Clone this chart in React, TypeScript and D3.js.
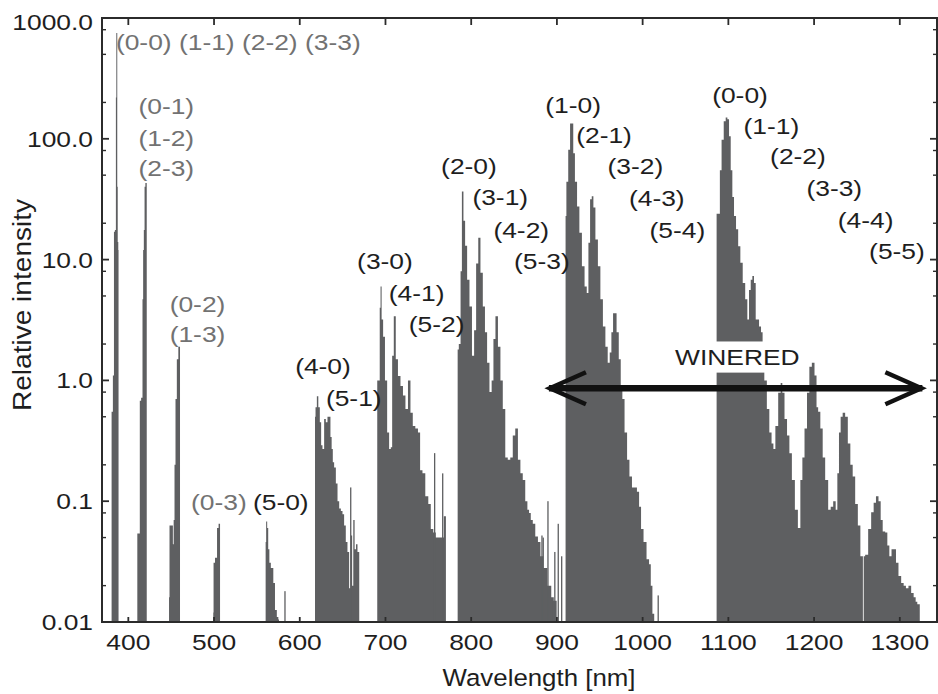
import React from 'react';
import * as d3 from 'd3';

// emission bands: [wavelength nm, relative intensity]
const band00 = [[380.5, 0.55], [381.8, 0.55], [382.2, 1.1], [383.1, 1.1], [383.4, 17], [385.3, 17.6], [385.7, 220], [386.3, 750], [386.9, 750], [387.3, 40], [388, 14], [388.6, 12]];
const band01 = [[410.5, 0.054], [413.2, 0.054], [413.6, 0.68], [416.3, 0.72], [416.8, 4.7], [417.8, 12], [418.4, 17.6], [419.5, 40], [420.3, 43], [421.5, 43]];
const band02 = [[447.5, 0.016], [448.6, 0.063], [451.5, 0.063], [452.5, 0.044], [453.3, 0.07], [454.5, 0.2], [455.6, 0.7], [457.6, 1.5], [459.1, 1.9], [460.3, 1.9]];
const band03 = [[499.1, 0.012], [499.8, 0.031], [502.5, 0.034], [504.5, 0.06], [506.1, 0.065], [507, 0.065]];
const band50 = [[560.2, 0.046], [561.4, 0.068], [562.6, 0.06], [563.8, 0.04], [565.3, 0.031], [567.2, 0.028], [568.4, 0.028], [569.9, 0.021], [572.3, 0.0126], [574.2, 0.011], [575.8, 0.0105]];
const band40 = [[617.8, 0.5], [619, 0.6], [620.9, 0.74], [622.4, 0.6], [624.4, 0.45], [625.5, 0.29], [627.5, 0.27], [629.4, 0.48], [631.4, 0.45], [633.3, 0.5], [635.2, 0.5], [636.4, 0.34], [638, 0.27], [639.1, 0.21], [641.1, 0.19], [643.1, 0.14], [645, 0.1], [647, 0.087], [648.9, 0.083], [650.8, 0.078], [652.7, 0.063], [654.7, 0.046], [656.6, 0.038], [658.6, 0.019], [660.5, 0.052], [661.7, 0.02], [663.2, 0.07], [664.8, 0.04], [666.4, 0.044], [668.3, 0.038], [669.4, 0.038]];
const band30 = [[690.4, 1.0], [692.8, 1.0], [693.8, 4.0], [694.7, 6.0], [696.3, 3.2], [698.2, 2.3], [700.6, 1.0], [703.3, 0.37], [705.2, 0.27], [707.2, 0.28], [708.4, 1.6], [711, 3.4], [713, 1.5], [716.1, 1.09], [718.9, 0.9], [721.9, 0.75], [724.7, 0.58], [727.8, 1.0], [730.5, 0.54], [733.2, 0.42], [736.4, 0.4], [739.4, 0.37], [741.4, 0.18], [744.9, 0.17], [748, 0.11], [751.9, 0.095], [753.8, 0.059], [757.7, 0.055], [759.7, 0.05], [763.5, 0.05], [766.7, 0.05], [769.4, 0.075], [770.5, 0.075]];
const band20 = [[784.2, 1.8], [786.9, 2.0], [788.3, 8], [790, 36.6], [791.9, 21], [793.9, 13], [796.6, 6.8], [799.4, 4.1], [802.4, 1.6], [804.4, 2.6], [807.1, 9.3], [809.4, 15.2], [812.2, 7.8], [814.9, 4.1], [817.2, 2.5], [819.9, 1.4], [822.7, 0.8], [825, 1.0], [826.9, 2.2], [829.7, 3.4], [832.7, 1.9], [835.5, 1.0], [838.2, 0.58], [841.3, 0.23], [844, 0.22], [847.2, 0.23], [849.8, 0.35], [853, 0.4], [856, 0.22], [858.8, 0.17], [861.5, 0.15], [864.6, 0.1], [866.5, 0.085], [868.5, 0.08], [870.5, 0.07], [873.2, 0.065], [876.3, 0.051], [879.4, 0.046], [882.2, 0.035], [886, 0.028], [891.8, 0.02], [895, 0.016], [897.7, 0.015], [899.7, 0.015]];
const band10 = [[910.1, 23], [912, 44], [914.4, 81], [916.3, 134], [918.3, 134], [919.8, 76], [922.2, 44], [924.8, 27.5], [927.6, 16.7], [930.7, 8.8], [933.8, 6.0], [935.8, 5.3], [937.7, 13.8], [939.7, 31.6], [941.6, 33.5], [943.5, 27], [946.3, 14.7], [949.3, 8.8], [952.1, 4.7], [955.2, 2.8], [957.9, 1.9], [960.6, 1.4], [962.6, 1.7], [964.5, 2.5], [966.5, 3.6], [968.4, 3.6], [970.8, 2.5], [973.5, 1.5], [975.4, 0.9], [977.3, 0.7], [980.5, 0.37], [983.2, 0.22], [986, 0.16], [989.1, 0.13], [991.8, 0.13], [994.9, 0.12], [996.8, 0.09], [999.5, 0.059], [1002.6, 0.046], [1006.5, 0.033], [1008.5, 0.03], [1010.5, 0.02], [1012.3, 0.0117], [1013.5, 0.0117]];
const bandIR = [[1086.3, 24], [1089.3, 24], [1090.9, 55], [1093.3, 98], [1095.9, 140], [1097.9, 150], [1099.8, 145], [1101.8, 105], [1103.7, 55], [1105.6, 33], [1107.6, 23], [1110.3, 17.8], [1112.6, 12.9], [1115.4, 9.4], [1118.1, 6.4], [1121.2, 4.7], [1123.1, 3.2], [1125.1, 5.6], [1127.1, 6.8], [1128.9, 7.3], [1130.9, 6.4], [1132.9, 3.2], [1134.8, 3.2], [1136.8, 2.8], [1139.4, 2.5], [1140.5, 1.2], [1143.4, 1.0], [1146.4, 0.58], [1149.2, 0.37], [1151.6, 0.3], [1153.5, 0.27], [1156.2, 0.42], [1160.1, 0.79], [1162, 0.95], [1163.9, 0.79], [1167.1, 0.48], [1169.8, 0.35], [1172.6, 0.25], [1175.6, 0.15], [1179.6, 0.085], [1182.6, 0.06], [1185.4, 0.15], [1187.3, 0.23], [1190.4, 0.4], [1193.1, 0.79], [1195.9, 1.3], [1198.9, 1.4], [1202.1, 1.1], [1203.6, 0.6], [1205.9, 0.55], [1208.7, 0.4], [1211.4, 0.23], [1214.5, 0.15], [1218.4, 0.085], [1220.4, 0.09], [1224.2, 0.1], [1226.2, 0.085], [1228.1, 0.17], [1230, 0.37], [1232, 0.5], [1234.7, 0.54], [1237.8, 0.5], [1240.9, 0.3], [1243.7, 0.2], [1246.4, 0.16], [1249.5, 0.095], [1252.6, 0.063], [1255.4, 0.035], [1258, 0.035], [1261.2, 0.036], [1265, 0.059], [1268.2, 0.081], [1270.8, 0.097], [1273.6, 0.11], [1276.7, 0.1], [1278.7, 0.07], [1281.4, 0.056], [1284.5, 0.055], [1286.4, 0.043], [1289.2, 0.035], [1291.5, 0.04], [1294.2, 0.04], [1296.9, 0.031], [1300, 0.024], [1303.2, 0.021], [1305.8, 0.02], [1308.5, 0.019], [1311.7, 0.02], [1314.8, 0.0174], [1317.5, 0.016], [1319.5, 0.0147], [1321.3, 0.014], [1323.3, 0.014]];

// isolated lines outside the band envelopes
const singleLines = [[582.7, 0.018], [659.4, 0.13], [757.3, 0.25], [766.7, 0.17], [882.5, 0.052], [884, 0.05], [889.5, 0.1], [893.8, 0.015], [897.5, 0.038], [901.5, 0.065], [905.5, 0.035], [1018.1, 0.0166]];
const gapLines = [1257.5];

const yMajor = [0.01, 0.1, 1, 10, 100, 1000];
const yTickText = ['0.01', '0.1', '1.0', '10.0', '100.0', '1000.0'];
const yMinorMult = [2, 5, 8];
const xTicks = [400, 500, 600, 700, 800, 900, 1000, 1100, 1200, 1300];

// band labels: [text, nm, intensity]
const grayLabels = [
  ['(0-0) (1-1) (2-2) (3-3)', 528.3, 637],
  ['(0-1)', 444.3, 185], ['(1-2)', 444.3, 101], ['(2-3)', 444.3, 57.3],
  ['(0-2)', 480.7, 4.25], ['(1-3)', 480.7, 2.4],
  ['(0-3)', 505.6, 0.0975],
];
const darkLabels = [
  ['(5-0)', 577.9, 0.0975],
  ['(4-0)', 627.1, 1.31], ['(5-1)', 663, 0.72],
  ['(3-0)', 699.4, 9.7], ['(4-1)', 736.4, 5.3], ['(5-2)', 759.7, 2.9],
  ['(2-0)', 797.4, 59], ['(3-1)', 833.9, 32.7], ['(4-2)', 858.4, 17.7], ['(5-3)', 882.5, 9.7],
  ['(1-0)', 918.9, 191], ['(2-1)', 955, 108], ['(3-2)', 991.5, 59], ['(4-3)', 1016.5, 32.4], ['(5-4)', 1040.5, 17.7],
  ['(0-0)', 1113.6, 231], ['(1-1)', 1150.2, 128], ['(2-2)', 1181.2, 71.4], ['(3-3)', 1223.6, 39.2], ['(4-4)', 1260.1, 21.4], ['(5-5)', 1296.7, 11.7],
];

const wineredRange = [1037, 1184];
const wineredLevels = [1.16, 2.1];
const arrowRange = [886, 1331];
const arrowLevel = 0.86;

const FONT = "'Liberation Sans', Arial, Helvetica, sans-serif";
const BAR = '#5e5f61';

const Txt = ({ x, y, text, fill = '#1e1e1e', size = 22, sx = 1.2, anchor = 'middle', rotate = 0 }: any) => (
  <text
    transform={`translate(${x},${y}) rotate(${rotate}) scale(${sx},1)`}
    textAnchor={anchor}
    dy="0.36em"
    fontSize={size}
    fontFamily={FONT}
    fill={fill}
  >
    {text}
  </text>
);

const App = () => {
  const width = 938;
  const height = 694;
  const left = 102, right = 937, top = 18, bottom = 622;

  const x = d3.scaleLinear().domain([369.3, 1343.4]).range([left, right]);
  const y = d3.scaleLog().domain([0.01, 1000]).range([bottom, top]).clamp(true);

  const area = d3
    .area<number[]>()
    .curve(d3.curveStep)
    .x((d) => x(d[0]))
    .y0(y(0.01))
    .y1((d) => y(d[1]));

  const bands = [band00, band01, band02, band03, band50, band40, band30, band20, band10, bandIR];

  const yMinor: number[] = [];
  yMajor.slice(0, -1).forEach((d) => yMinorMult.forEach((m) => yMinor.push(d * m)));

  const ay = y(arrowLevel);
  const ax1 = x(arrowRange[0]);
  const ax2 = x(arrowRange[1]);

  return (
    <svg width={width} height={height} style={{ position: 'absolute', left: 0, top: 0, background: '#fff' }}>
      <rect width={width} height={height} fill="#fff" />

      {/* spectrum */}
      <g fill={BAR}>
        {bands.map((b, i) => (
          <path key={i} d={area(b) || ''} />
        ))}
        {singleLines.map((d, i) => (
          <rect key={i} x={x(d[0]) - 0.6} width={1.3} y={y(d[1])} height={y(0.01) - y(d[1])} />
        ))}
      </g>
      {gapLines.map((g, i) => (
        <rect key={i} x={x(g) - 0.5} width={1} y={top} height={bottom - top} fill="#fff" opacity={0.8} />
      ))}

      {/* WINERED label box */}
      <rect
        x={x(wineredRange[0])}
        width={x(wineredRange[1]) - x(wineredRange[0])}
        y={y(wineredLevels[1])}
        height={y(wineredLevels[0]) - y(wineredLevels[1])}
        fill="#fff"
      />
      <Txt x={(x(wineredRange[0]) + x(wineredRange[1])) / 2} y={(y(wineredLevels[0]) + y(wineredLevels[1])) / 2} text="WINERED" />

      {/* double arrow */}
      <g stroke="#111" fill="none">
        <line x1={ax1 + 4} x2={ax2 - 4} y1={ay} y2={ay} strokeWidth={6.5} />
        <polyline points={`${ax1 + 41},${ay - 16} ${ax1 + 5},${ay} ${ax1 + 41},${ay + 16}`} strokeWidth={4.5} strokeLinejoin="miter" />
        <polyline points={`${ax2 - 41},${ay - 16} ${ax2 - 5},${ay} ${ax2 - 41},${ay + 16}`} strokeWidth={4.5} strokeLinejoin="miter" />
      </g>

      {/* frame and ticks */}
      <g stroke="#2b2b2b" strokeWidth={1.8}>
        <rect x={left} y={top} width={right - left} height={bottom - top} fill="none" strokeWidth={2} />
        {xTicks.map((t) => (
          <g key={t}>
            <line x1={x(t)} x2={x(t)} y1={bottom} y2={bottom - 5} />
            <line x1={x(t)} x2={x(t)} y1={top} y2={top + 7} />
          </g>
        ))}
        {yMajor.map((t) => (
          <g key={t}>
            <line x1={left} x2={left + 7} y1={y(t)} y2={y(t)} />
            <line x1={right} x2={right - 7} y1={y(t)} y2={y(t)} />
          </g>
        ))}
        {yMinor.map((t) => (
          <g key={t}>
            <line x1={left} x2={left + 4} y1={y(t)} y2={y(t)} strokeWidth={1.4} />
            <line x1={right} x2={right - 4} y1={y(t)} y2={y(t)} strokeWidth={1.4} />
          </g>
        ))}
      </g>

      {/* tick labels */}
      {yMajor.map((t, i) => (
        <Txt key={t} x={93} y={Math.max(y(t), 22)} text={yTickText[i]} anchor="end" />
      ))}
      {xTicks.map((t) => (
        <Txt key={t} x={x(t)} y={bottom + 20} text={String(t)} />
      ))}

      {/* axis titles */}
      <Txt x={539} y={678} text="Wavelength [nm]" size={23.5} sx={1.1} />
      <Txt x={22} y={305} text="Relative intensity" size={26} sx={1.08} rotate={-90} />

      {/* band labels */}
      {grayLabels.map((l, i) => (
        <Txt key={i} x={x(l[1] as number)} y={y(l[2] as number)} text={l[0]} fill="#727272" />
      ))}
      {darkLabels.map((l, i) => (
        <Txt key={i} x={x(l[1] as number)} y={y(l[2] as number)} text={l[0]} />
      ))}
    </svg>
  );
};

export default App;
